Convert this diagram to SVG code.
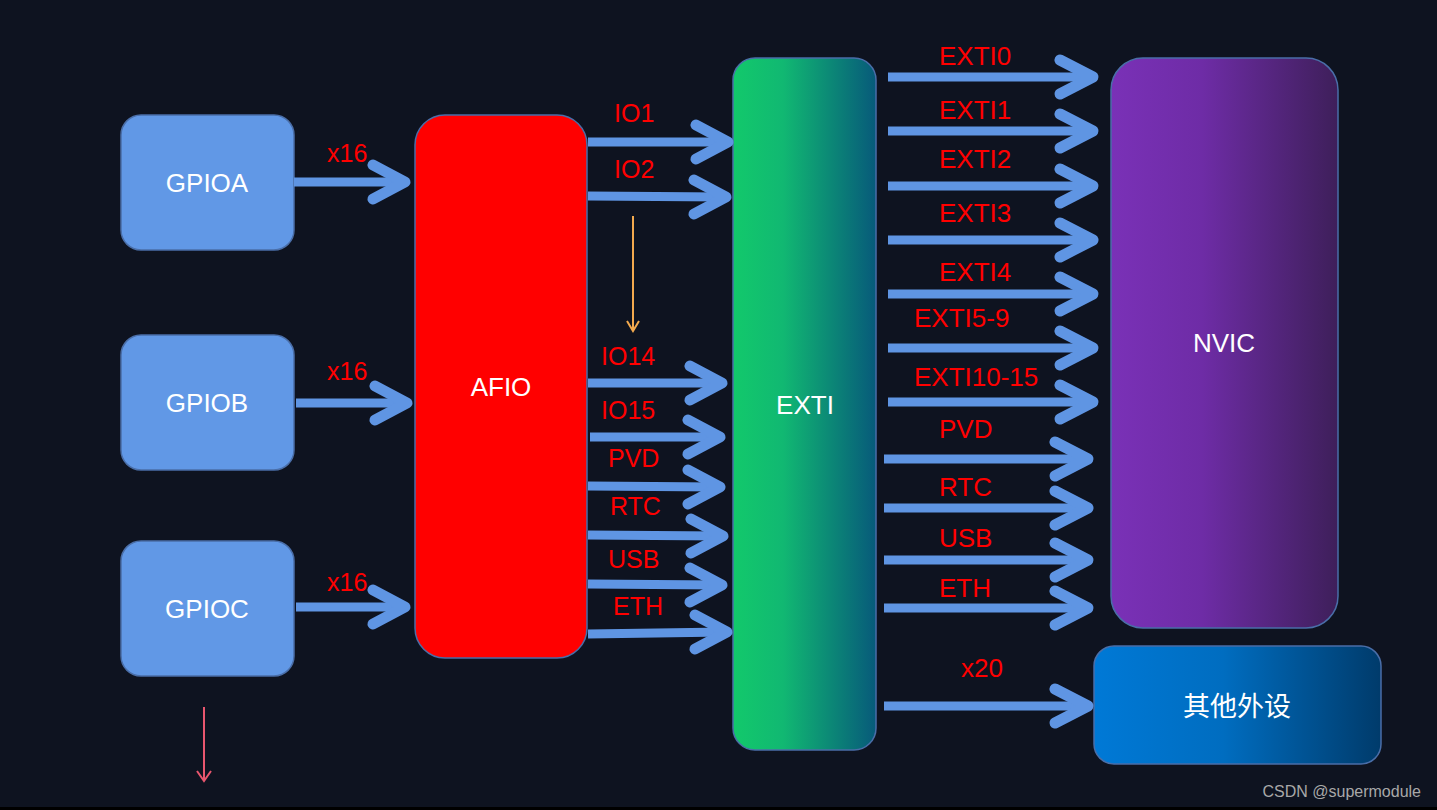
<svg xmlns="http://www.w3.org/2000/svg" width="1437" height="810" viewBox="0 0 1437 810">
<defs>
<linearGradient id="gExti" x1="0" y1="0" x2="1" y2="0">
<stop offset="0" stop-color="#12c96b"/><stop offset="0.35" stop-color="#11b872"/><stop offset="1" stop-color="#075a7a"/>
</linearGradient>
<linearGradient id="gNvic" x1="0" y1="0" x2="1" y2="0">
<stop offset="0" stop-color="#7a31b7"/><stop offset="0.4" stop-color="#6e2ca6"/><stop offset="1" stop-color="#3e1f5a"/>
</linearGradient>
<linearGradient id="gOther" x1="0" y1="0" x2="1" y2="0">
<stop offset="0" stop-color="#0079d6"/><stop offset="0.45" stop-color="#006dc0"/><stop offset="1" stop-color="#003b6b"/>
</linearGradient>
<marker id="mOrange" markerWidth="14" markerHeight="14" refX="12" refY="7" orient="auto" markerUnits="userSpaceOnUse" viewBox="0 0 14 14">
<path d="M2,1 L12,7 L2,13" fill="none" stroke="#f2a94e" stroke-width="2"/>
</marker>
</defs>
<style>
.node{stroke:#4a6ea8;stroke-width:1.5}
.lbl{font-family:"Liberation Sans",Arial,sans-serif;font-size:26px;fill:#ffffff;text-anchor:middle}
.red{font-family:"Liberation Sans",Arial,sans-serif;font-size:25px;fill:#ff0000}
.shaft{stroke:#5f95e3;stroke-width:9;fill:none}
.head{stroke:#5f95e3;stroke-width:11;fill:none;stroke-linecap:round;stroke-linejoin:round}
</style>
<rect x="0" y="0" width="1437" height="810" fill="#0e1320"/>
<rect x="0" y="807" width="1437" height="3" fill="#000000"/>

<g id="GPIOA"><rect class="node" x="121" y="115" width="173" height="135" rx="20" fill="#6198e6"/><text class="lbl" x="207" y="192">GPIOA</text></g>
<g id="GPIOB"><rect class="node" x="121" y="335" width="173" height="135" rx="20" fill="#6198e6"/><text class="lbl" x="207" y="412">GPIOB</text></g>
<g id="GPIOC"><rect class="node" x="121" y="541" width="173" height="135" rx="20" fill="#6198e6"/><text class="lbl" x="207" y="618">GPIOC</text></g>
<g id="AFIO"><rect class="node" x="415" y="115" width="172" height="543" rx="30" fill="#ff0000"/><text class="lbl" x="501" y="396">AFIO</text></g>
<g id="EXTI"><rect class="node" x="733" y="58" width="143" height="692" rx="22" fill="url(#gExti)"/><text class="lbl" x="805" y="414">EXTI</text></g>
<g id="NVIC"><rect class="node" x="1111" y="58" width="227" height="570" rx="32" fill="url(#gNvic)"/><text class="lbl" x="1224" y="352">NVIC</text></g>
<g id="Other"><rect class="node" x="1094" y="646" width="287" height="118" rx="20" fill="url(#gOther)"/><text class="lbl" x="1237" y="716" style="font-size:27px;font-family:'Liberation Sans','Noto Sans CJK SC',sans-serif">其他外设</text></g>

<g id="connectors">
<!-- GPIO to AFIO -->
<line class="shaft" x1="294" y1="182" x2="403" y2="182"/><polyline class="head" points="373,165 405,182 373,199"/>
<line class="shaft" x1="296" y1="403" x2="405" y2="403"/><polyline class="head" points="375,386 407,403 375,420"/>
<line class="shaft" x1="296" y1="607" x2="403" y2="607"/><polyline class="head" points="373,590 405,607 373,624"/>
<!-- AFIO to EXTI -->
<line class="shaft" x1="588" y1="142" x2="726" y2="142"/><polyline class="head" points="696,125 728,142 696,159"/>
<line class="shaft" x1="588" y1="196" x2="724" y2="197"/><polyline class="head" points="694,180 726,197 694,214"/>
<line class="shaft" x1="588" y1="383" x2="720" y2="383"/><polyline class="head" points="690,366 722,383 690,400"/>
<line class="shaft" x1="590" y1="437" x2="718" y2="437"/><polyline class="head" points="688,420 720,437 688,454"/>
<line class="shaft" x1="588" y1="486" x2="718" y2="487"/><polyline class="head" points="688,470 720,487 688,504"/>
<line class="shaft" x1="588" y1="535" x2="721" y2="536"/><polyline class="head" points="691,519 723,536 691,553"/>
<line class="shaft" x1="588" y1="584" x2="720" y2="585"/><polyline class="head" points="690,568 722,585 690,602"/>
<line class="shaft" x1="588" y1="634" x2="725" y2="632"/><polyline class="head" points="695,615 727,632 695,649"/>
<!-- EXTI to NVIC -->
<line class="shaft" x1="888" y1="77" x2="1091" y2="77"/><polyline class="head" points="1060,60 1093,77 1060,94"/>
<line class="shaft" x1="888" y1="131" x2="1091" y2="131"/><polyline class="head" points="1060,114 1093,131 1060,148"/>
<line class="shaft" x1="888" y1="186" x2="1091" y2="186"/><polyline class="head" points="1060,169 1093,186 1060,203"/>
<line class="shaft" x1="888" y1="240" x2="1091" y2="240"/><polyline class="head" points="1060,223 1093,240 1060,257"/>
<line class="shaft" x1="888" y1="294" x2="1091" y2="294"/><polyline class="head" points="1060,277 1093,294 1060,311"/>
<line class="shaft" x1="888" y1="348" x2="1091" y2="348"/><polyline class="head" points="1060,331 1093,348 1060,365"/>
<line class="shaft" x1="888" y1="402" x2="1091" y2="402"/><polyline class="head" points="1060,385 1093,402 1060,419"/>
<line class="shaft" x1="884" y1="459" x2="1086" y2="459"/><polyline class="head" points="1055,442 1088,459 1055,476"/>
<line class="shaft" x1="884" y1="508" x2="1086" y2="508"/><polyline class="head" points="1055,491 1088,508 1055,525"/>
<line class="shaft" x1="884" y1="560" x2="1086" y2="560"/><polyline class="head" points="1055,543 1088,560 1055,577"/>
<line class="shaft" x1="884" y1="608" x2="1086" y2="608"/><polyline class="head" points="1055,591 1088,608 1055,625"/>
<line class="shaft" x1="884" y1="706" x2="1086" y2="706"/><polyline class="head" points="1055,689 1088,706 1055,723"/>
<!-- thin arrows -->
<line x1="633" y1="216" x2="633" y2="331" stroke="#f2a94e" stroke-width="2" marker-end="url(#mOrange)"/>
<line x1="204" y1="707" x2="204" y2="780" stroke="#e8566e" stroke-width="2"/>
<polyline points="197,771 204,781 211,771" fill="none" stroke="#e8566e" stroke-width="2"/>
</g>

<g id="labels">
<text class="red" x="327" y="162">x16</text>
<text class="red" x="327" y="380">x16</text>
<text class="red" x="327" y="591">x16</text>
<text class="red" x="614" y="122">IO1</text>
<text class="red" x="614" y="178">IO2</text>
<text class="red" x="601" y="365">IO14</text>
<text class="red" x="601" y="419">IO15</text>
<text class="red" x="608" y="467">PVD</text>
<text class="red" x="610" y="515">RTC</text>
<text class="red" x="608" y="568">USB</text>
<text class="red" x="613" y="615">ETH</text>
<text class="red" x="939" y="65" style="font-size:26px">EXTI0</text>
<text class="red" x="939" y="119" style="font-size:26px">EXTI1</text>
<text class="red" x="939" y="168" style="font-size:26px">EXTI2</text>
<text class="red" x="939" y="222" style="font-size:26px">EXTI3</text>
<text class="red" x="939" y="281" style="font-size:26px">EXTI4</text>
<text class="red" x="914" y="327" style="font-size:26px">EXTI5-9</text>
<text class="red" x="914" y="386" style="font-size:26px">EXTI10-15</text>
<text class="red" x="939" y="438" style="font-size:26px">PVD</text>
<text class="red" x="939" y="496" style="font-size:26px">RTC</text>
<text class="red" x="939" y="547" style="font-size:26px">USB</text>
<text class="red" x="939" y="597" style="font-size:26px">ETH</text>
<text class="red" x="961" y="677" style="font-size:26px">x20</text>
</g>
<text x="1421" y="797" text-anchor="end" font-family="'Liberation Sans',Arial,sans-serif" font-size="16" fill="#a8a8a8">CSDN @supermodule</text>
</svg>
